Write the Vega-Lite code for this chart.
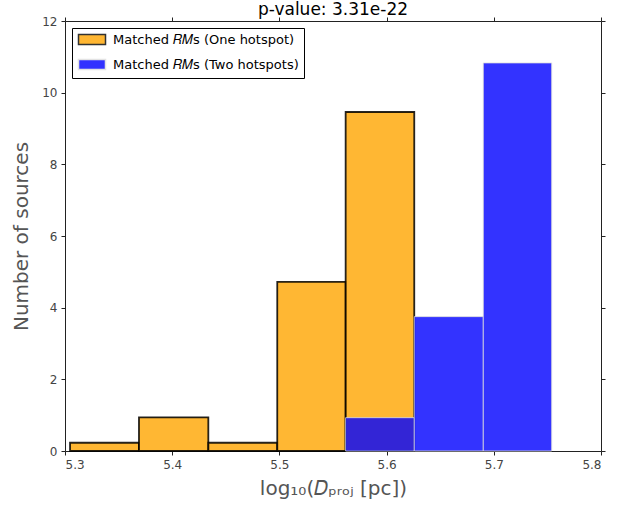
{
  "$schema": "https://vega.github.io/schema/vega-lite/v6.json",
  "width": 536,
  "height": 430,
  "autosize": "none",
  "padding": {"left": 65, "top": 21, "right": 32, "bottom": 56},
  "background": "white",
  "title": {"text": "p-value: 3.31e-22", "fontSize": 17, "font": "DejaVu Sans", "fontWeight": "normal", "color": "#000000", "offset": -4, "anchor": "middle"},
  "config": {
    "view": {"stroke": null},
    "font": "DejaVu Sans",
    "axis": {"grid": false, "domainColor": "#222222", "domainWidth": 1, "tickColor": "#222222", "tickSize": 4, "tickWidth": 1, "labelFont": "DejaVu Sans", "labelFontSize": 12, "labelColor": "#444444", "titleFont": "DejaVu Sans", "titleFontWeight": "normal", "titleColor": "#555555"}
  },
  "datasets": {
    "one": [
      {"lo": 5.3047, "hi": 5.3690, "n": 0.23, "series": "Matched 𝑅𝑀s (One hotspot)"},
      {"lo": 5.3690, "hi": 5.4337, "n": 0.94, "series": "Matched 𝑅𝑀s (One hotspot)"},
      {"lo": 5.4337, "hi": 5.4980, "n": 0.23, "series": "Matched 𝑅𝑀s (One hotspot)"},
      {"lo": 5.4980, "hi": 5.5618, "n": 4.72, "series": "Matched 𝑅𝑀s (One hotspot)"},
      {"lo": 5.5618, "hi": 5.6258, "n": 9.46, "series": "Matched 𝑅𝑀s (One hotspot)"}
    ],
    "two": [
      {"lo": 5.5618, "hi": 5.6258, "n": 0.93, "series": "Matched 𝑅𝑀s (Two hotspots)"},
      {"lo": 5.6258, "hi": 5.6902, "n": 3.75, "series": "Matched 𝑅𝑀s (Two hotspots)"},
      {"lo": 5.6902, "hi": 5.7540, "n": 10.83, "series": "Matched 𝑅𝑀s (Two hotspots)"}
    ]
  },
  "layer": [
    {
      "data": {"name": "one"},
      "mark": {"type": "rect", "fillOpacity": 0.8, "strokeOpacity": 0.85, "strokeWidth": 1.8},
      "encoding": {
        "x": {"field": "lo", "type": "quantitative", "scale": {"domain": [5.3, 5.8], "nice": false, "zero": false},
              "axis": {"orient": "bottom", "values": [5.3, 5.4, 5.5, 5.6, 5.7, 5.8], "format": ".1f", "title": "log₁₀(𝐷ₚᵣₒⱼ [pc])", "titleFontSize": 20, "titlePadding": 8, "labelPadding": 4}},
        "x2": {"field": "hi"},
        "y": {"field": "n", "type": "quantitative", "scale": {"domain": [0, 12], "nice": false},
              "axis": {"orient": "left", "values": [0, 2, 4, 6, 8, 10, 12], "format": "d", "title": "Number of sources", "titleFontSize": 20, "titlePadding": 10, "labelPadding": 4}},
        "y2": {"datum": 0},
        "fill": {"field": "series", "type": "nominal",
                 "scale": {"domain": ["Matched 𝑅𝑀s (One hotspot)", "Matched 𝑅𝑀s (Two hotspots)"], "range": ["#FFA500", "#0000FF"]},
                 "legend": {"orient": "none", "legendX": 7, "legendY": 7, "title": null, "strokeColor": "#000000", "fillColor": "#ffffff", "padding": 5, "rowPadding": 8, "labelFontSize": 13, "labelFont": "DejaVu Sans", "labelColor": "#000000", "labelLimit": 400, "symbolType": "M-1,-1H4.4V1H-1Z", "symbolSize": 100, "symbolOpacity": 0.8, "symbolStrokeWidth": 1.5, "labelOffset": 23, "offset": 0}},
        "stroke": {"field": "series", "type": "nominal",
                   "scale": {"domain": ["Matched 𝑅𝑀s (One hotspot)", "Matched 𝑅𝑀s (Two hotspots)"], "range": ["#000000", "#dddddd"]},
                   "legend": {"orient": "none", "legendX": 7, "legendY": 7, "title": null, "strokeColor": "#000000", "fillColor": "#ffffff", "padding": 5, "rowPadding": 8, "labelFontSize": 13, "labelFont": "DejaVu Sans", "labelColor": "#000000", "labelLimit": 400, "symbolType": "M-1,-1H4.4V1H-1Z", "symbolSize": 100, "symbolOpacity": 0.8, "symbolStrokeWidth": 1.5, "labelOffset": 23, "offset": 0}}
      }
    },
    {
      "data": {"name": "two"},
      "mark": {"type": "rect", "fillOpacity": 0.8, "strokeOpacity": 0.8, "strokeWidth": 1},
      "encoding": {
        "x": {"field": "lo", "type": "quantitative", "scale": {"domain": [5.3, 5.8], "nice": false, "zero": false},
              "axis": {"orient": "top", "values": [5.3, 5.4, 5.5, 5.6, 5.7, 5.8], "labels": false, "title": null}},
        "x2": {"field": "hi"},
        "y": {"field": "n", "type": "quantitative", "scale": {"domain": [0, 12], "nice": false},
              "axis": {"orient": "right", "values": [0, 2, 4, 6, 8, 10, 12], "labels": false, "title": null}},
        "y2": {"datum": 0},
        "fill": {"field": "series", "type": "nominal"},
        "stroke": {"field": "series", "type": "nominal"}
      }
    }
  ],
  "resolve": {"axis": {"x": "independent", "y": "independent"}}
}
